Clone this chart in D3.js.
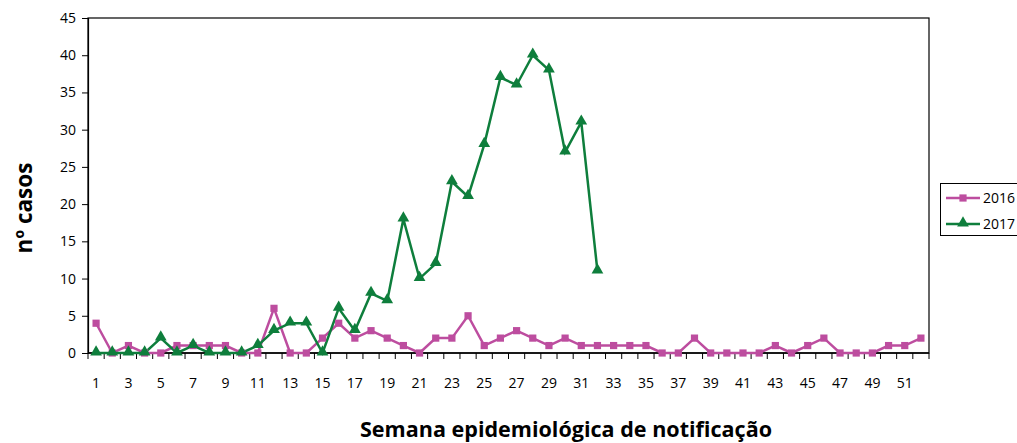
<!DOCTYPE html>
<html><head><meta charset="utf-8">
<script src="https://cdn.jsdelivr.net/npm/d3@7"></script>
<style>body{margin:0;background:#fff}svg{display:block}text{font-family:"Open Sans","Noto Sans",sans-serif}</style>
</head><body><svg id="c" width="1017" height="443"></svg>
<script>
const weeks = d3.range(1, 53);
const cases2016 = [4,0,1,0,0,1,1,1,1,0,0,6,0,0,2,4,2,3,2,1,0,2,2,5,1,2,3,2,1,2,1,1,1,1,1,0,0,2,0,0,0,0,1,0,1,2,0,0,0,1,1,2];
const cases2017 = [0,0,0,0,2,0,1,0,0,0,1,3,4,4,0,6,3,8,7,18,10,12,23,21,28,37,36,40,38,27,31,11];
const yTicks = [0,5,10,15,20,25,30,35,40,45];
const xTickLabels = weeks.filter(w => w % 2 === 1);
const seriesNames = ["2016","2017"];
const colors = {"2016":"#BD4D9F","2017":"#0E7E3C"};

const svg = d3.select("#c");
const m = {l:88, t:18, r:929, b:353};
const x = d3.scaleBand().domain(weeks).range([m.l, m.r]);
const y = d3.scaleLinear().domain([0,45]).range([m.b, m.t]);

// frame
svg.append("rect").attr("x",m.l).attr("y",m.t).attr("width",m.r-m.l).attr("height",m.b-m.t)
  .attr("fill","none").attr("stroke","#000").attr("stroke-width",1.2);

// y axis
const ya = svg.append("g").attr("transform",`translate(${m.l},0)`)
  .call(d3.axisLeft(y).tickValues(yTicks).tickSize(6).tickPadding(6));
ya.select(".domain").attr("stroke","#000").attr("stroke-width",1.2);
ya.selectAll("text").attr("font-size",14).attr("fill","#000");

// x axis
const xa = svg.append("g").attr("transform",`translate(0,${m.b})`);
xa.append("line").attr("x1",m.l).attr("x2",m.r).attr("stroke","#000").attr("stroke-width",1.5);
const edges = weeks.map(w => x(w)).concat([m.r]);
xa.selectAll("line.t").data(edges).join("line").attr("class","t")
  .attr("x1",d=>d).attr("x2",d=>d).attr("y1",0).attr("y2",6).attr("stroke","#000");
xa.selectAll("text").data(xTickLabels).join("text")
  .attr("x",d=>x(d)+x.bandwidth()/2).attr("y",35).attr("text-anchor","middle")
  .attr("font-size",14).attr("fill","#000").text(d=>d);

// lines
const cx = w => x(w)+x.bandwidth()/2;
const line = d3.line().x(d=>cx(d.w)).y(d=>y(d.v));
const d16 = cases2016.map((v,i)=>({w:weeks[i],v}));
const d17 = cases2017.map((v,i)=>({w:weeks[i],v}));
svg.append("path").datum(d16).attr("d",line).attr("fill","none").attr("stroke",colors["2016"]).attr("stroke-width",2.5);
svg.append("path").datum(d17).attr("d",line).attr("fill","none").attr("stroke",colors["2017"]).attr("stroke-width",2.5);
const sq = d3.symbol().type(d3.symbolSquare).size(52);
const tri = d3.symbol().type(d3.symbolTriangle).size(60);
svg.selectAll("path.m16").data(d16).join("path").attr("class","m16")
  .attr("d",sq).attr("transform",d=>`translate(${cx(d.w)},${y(d.v)})`).attr("fill",colors["2016"]);
svg.selectAll("path.m17").data(d17).join("path").attr("class","m17")
  .attr("d",tri).attr("transform",d=>`translate(${cx(d.w)},${y(d.v)-1})`).attr("fill",colors["2017"]);

// axis titles
svg.append("text").attr("x",566).attr("y",437).attr("text-anchor","middle")
  .attr("font-size",21.5).attr("font-weight","bold").attr("fill","#000")
  .attr("textLength",412).attr("lengthAdjust","spacingAndGlyphs")
  .text("Semana epidemiológica de notificação");
svg.append("text").attr("transform","translate(32,208) rotate(-90)").attr("text-anchor","middle")
  .attr("font-size",22.5).attr("font-weight","bold").attr("fill","#000").text("nº casos");

// legend
const lg = svg.append("g");
lg.append("rect").attr("x",940.5).attr("y",183.5).attr("width",90).attr("height",52)
  .attr("fill","#fff").attr("stroke","#000").attr("stroke-width",1);
seriesNames.forEach((s,i)=>{
  const yy = 198 + i*26;
  lg.append("line").attr("x1",946).attr("x2",980).attr("y1",yy).attr("y2",yy).attr("stroke",colors[s]).attr("stroke-width",2.5);
  lg.append("path").attr("d", i===0?sq:tri).attr("transform",`translate(963,${yy-(i?1:0)})`).attr("fill",colors[s]);
  lg.append("text").attr("x",983).attr("y",yy+5).attr("font-size",14).attr("fill","#000").text(s);
});
</script></body></html>
